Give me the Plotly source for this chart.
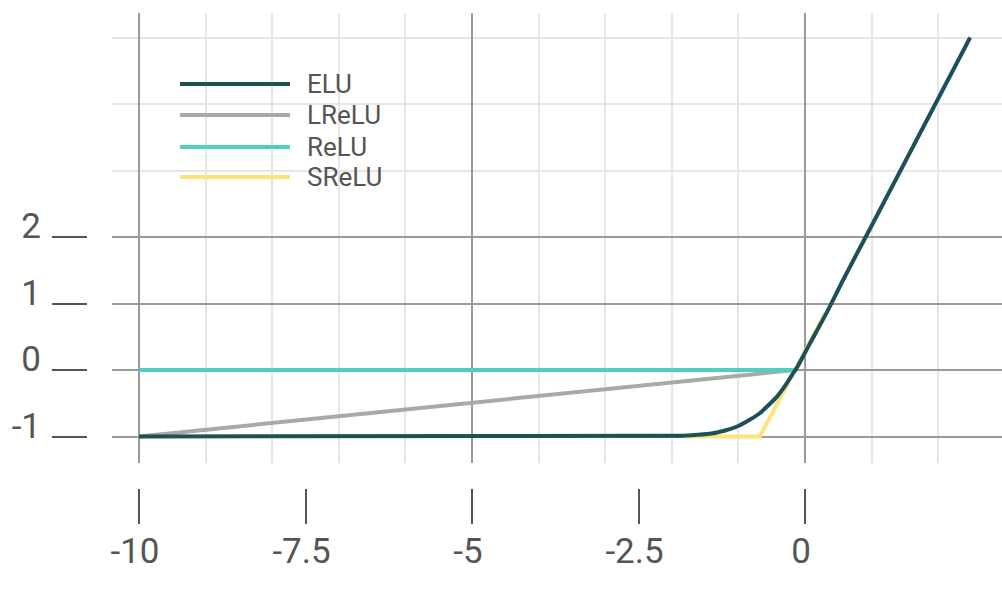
import plotly.graph_objects as go

# ---- data ----
elu_x = [-10, -2.0, -1.7, -1.43, -1.2, -1.02, -0.85, -0.68, -0.55, -0.42, -0.3, -0.18, -0.13, 0.075, 0.33, 0.57, 1.0, 2.48]
elu_y = [-1, -0.99, -0.98, -0.96, -0.91, -0.85, -0.76, -0.65, -0.53, -0.40, -0.24, -0.05, 0.02, 0.40, 0.87, 1.35, 2.17, 5.0]

lrelu_x = [-10, -0.15]
lrelu_y = [-1, 0]

relu_x = [-10, -0.15]
relu_y = [0, 0]

srelu_x = [-1.85, -0.68, 0.3]
srelu_y = [-1, -1, 0.85]

series_names = ["ELU", "LReLU", "ReLU", "SReLU"]

x_ticks = [-10, -7.5, -5, -2.5, 0]
x_ticktext = ["-10", "-7.5", "-5", "-2.5", "0"]
x_major_grid = [-10, -5, 0]
x_minor_grid = [-9, -8, -7, -6, -4, -3, -2, -1, 1, 2]
y_ticks = [-1, 0, 1, 2]
y_ticktext = ["-1", "0", "1", "2"]
y_minor_grid = [3, 4, 5]

# ---- styles ----
FONT = "Roboto"
TXT = "#555555"
COLORS = {"ELU": "#1d5159", "LReLU": "#a9a9a9", "ReLU": "#4fcfc0", "SReLU": "#ffe37a"}
LW = 4

W, H = 1002, 592

fig = go.Figure()
fig.add_trace(go.Scatter(x=lrelu_x, y=lrelu_y, mode="lines", name="LReLU", showlegend=False,
                         line=dict(color=COLORS["LReLU"], width=LW)))
fig.add_trace(go.Scatter(x=relu_x, y=relu_y, mode="lines", name="ReLU", showlegend=False,
                         line=dict(color=COLORS["ReLU"], width=LW)))
fig.add_trace(go.Scatter(x=srelu_x, y=srelu_y, mode="lines", name="SReLU", showlegend=False,
                         line=dict(color=COLORS["SReLU"], width=LW)))
fig.add_trace(go.Scatter(x=elu_x, y=elu_y, mode="lines", name="ELU", xaxis="x2", showlegend=False,
                         line=dict(color=COLORS["ELU"], width=LW, shape="spline", smoothing=0.6)))

# legend drawn as line samples + text labels (paper coordinates)
leg_rows_px = [84, 115, 147, 177]
for name, ypx in zip(series_names, leg_rows_px):
    yp = (H - ypx) / H
    fig.add_shape(type="line", xref="paper", yref="paper",
                  x0=180 / W, x1=290 / W, y0=yp, y1=yp,
                  line=dict(color=COLORS[name], width=LW))
    fig.add_annotation(xref="paper", yref="paper", x=305 / W, y=yp,
                       xanchor="left", yanchor="middle", showarrow=False,
                       text=name, font=dict(size=26, color=TXT, family=FONT))

xdom = [112 / W, 1.0]
ydom = [(H - 463) / H, (H - 13) / H]
xr = [(112 - 805) / 66.6, (1002 - 805) / 66.6]
yr = [(370 - 463) / 66.5, (370 - 13) / 66.5]

fig.update_layout(
    width=W, height=H,
    margin=dict(l=0, r=0, t=0, b=0, autoexpand=False),
    paper_bgcolor="white", plot_bgcolor="white",
    font=dict(family=FONT, color=TXT),
    showlegend=False,
    xaxis=dict(domain=xdom, range=xr, tickvals=x_major_grid, showticklabels=False,
               ticks="", showgrid=True, gridcolor="#9a9a9a", gridwidth=2,
               zeroline=False, showline=False, automargin=False,
               minor=dict(tickvals=x_minor_grid, showgrid=True, gridcolor="#e6e6e6", gridwidth=2, ticks="")),
    xaxis2=dict(overlaying="x", matches="x", anchor="free", position=(H - 488) / H,
                side="bottom", tickmode="array", tickvals=x_ticks, ticktext=x_ticktext,
                ticks="outside", ticklen=35, tickwidth=2, tickcolor=TXT,
                tickfont=dict(size=35, color=TXT, family=FONT), ticklabelstandoff=-3,
                ticklabelshift=-4, automargin=False,
                showgrid=False, zeroline=False, showline=False),
    yaxis=dict(domain=ydom, range=yr, tickvals=y_ticks, ticktext=y_ticktext,
               anchor="free", position=87 / W, side="left",
               ticks="outside", ticklen=35, tickwidth=2, tickcolor=TXT,
               tickfont=dict(size=35, color=TXT, family=FONT), ticklabelstandoff=4,
               ticklabelshift=-11, automargin=False,
               showgrid=True, gridcolor="#9a9a9a", gridwidth=2,
               zeroline=False, showline=False,
               minor=dict(tickvals=y_minor_grid, showgrid=True, gridcolor="#e6e6e6", gridwidth=2, ticks="")),
)

fig.write_html("out.html", include_plotlyjs=True, config={"displayModeBar": False},
               post_script="document.body.style.margin='0';document.body.style.overflow='hidden';")
